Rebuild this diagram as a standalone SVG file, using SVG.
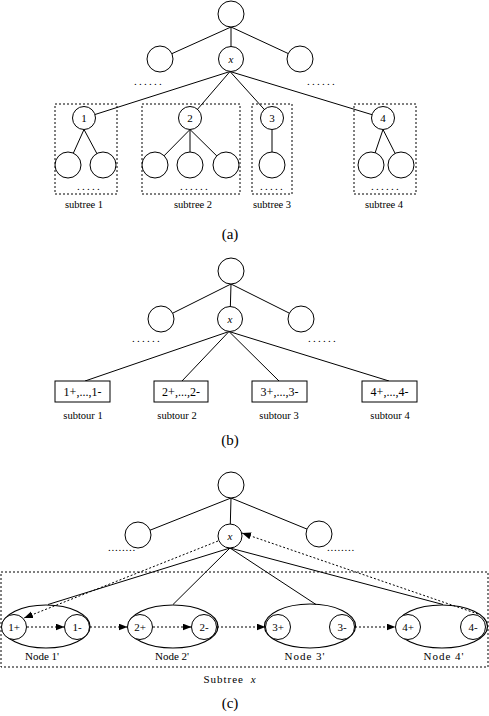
<svg xmlns="http://www.w3.org/2000/svg" width="489" height="716" viewBox="0 0 489 716">
<style>
  .n { fill: #fff; stroke: #000; stroke-width: 1; }
  .e { fill: none; stroke: #000; stroke-width: 1.2; }
  .ln { stroke: #000; stroke-width: 1; fill: none; }
  .dl { stroke: #000; stroke-width: 1; fill: none; stroke-dasharray: 2 2; }
  .box { fill: none; stroke: #000; stroke-width: 1; stroke-dasharray: 2 2; }
  .sbox { fill: #fff; stroke: #000; stroke-width: 1; }
  text { font-family: "Liberation Serif", "Times New Roman", serif; fill: #000; }
  .lb { font-size: 10.5px; text-anchor: middle; }
  .nl { font-size: 11px; text-anchor: middle; }
  .it { font-size: 11px; text-anchor: middle; font-style: italic; }
  .cap { font-size: 15px; text-anchor: middle; }
  .dots { font-size: 11px; letter-spacing: 2.25px; }
  .bt { font-size: 12px; text-anchor: middle; }
</style>
<defs>
  <marker id="ah" markerUnits="userSpaceOnUse" markerWidth="10" markerHeight="8" refX="9" refY="3.5" orient="auto">
    <path d="M0,0 L9,3.5 L0,7 Z" fill="#000"/>
  </marker>
</defs>

<!-- ===== (a) ===== -->
<g id="connectors-a">
  <line class="ln" x1="231" y1="27" x2="160" y2="59"/>
  <line class="ln" x1="231" y1="27" x2="300" y2="59"/>
  <line class="ln" x1="231" y1="27" x2="231" y2="59"/>
  <line class="ln" x1="230" y1="71.5" x2="84" y2="118"/>
  <line class="ln" x1="230" y1="71.5" x2="190" y2="118"/>
  <line class="ln" x1="230" y1="71.5" x2="272" y2="118"/>
  <line class="ln" x1="230" y1="71.5" x2="383" y2="118"/>
  <line class="ln" x1="84" y1="129.5" x2="68" y2="165"/>
  <line class="ln" x1="84" y1="129.5" x2="103" y2="165"/>
  <line class="ln" x1="190" y1="129.5" x2="155" y2="165"/>
  <line class="ln" x1="190" y1="129.5" x2="190" y2="165"/>
  <line class="ln" x1="190" y1="129.5" x2="226" y2="165"/>
  <line class="ln" x1="272" y1="129.5" x2="272" y2="165"/>
  <line class="ln" x1="383" y1="129.5" x2="371" y2="165"/>
  <line class="ln" x1="383" y1="129.5" x2="401" y2="165"/>
</g>
<g id="a-root"><circle class="n" cx="231" cy="14" r="13"/></g>
<g id="a-left"><circle class="n" cx="160" cy="59" r="13"/></g>
<g id="a-x"><circle class="n" cx="231" cy="59" r="12.5"/><text class="it" x="231" y="63">x</text></g>
<g id="a-right"><circle class="n" cx="300" cy="59" r="13"/></g>
<text class="dots" x="134" y="85">......</text>
<text class="dots" x="307" y="85">......</text>

<g id="subtree1">
  <rect class="box" x="55" y="104" width="62" height="90"/>
  <circle class="n" cx="84" cy="118" r="11.5"/><text class="nl" x="84" y="122">1</text>
  <circle class="n" cx="68" cy="165" r="13"/>
  <circle class="n" cx="103" cy="165" r="13"/>
  <text class="dots" x="77" y="190">.....</text>
  <text class="lb" x="84" y="208">subtree 1</text>
</g>
<g id="subtree2">
  <rect class="box" x="142" y="104" width="98" height="90"/>
  <circle class="n" cx="190" cy="118" r="11.5"/><text class="nl" x="190" y="122">2</text>
  <circle class="n" cx="155" cy="165" r="13"/>
  <circle class="n" cx="190" cy="165" r="13"/>
  <circle class="n" cx="226" cy="165" r="13"/>
  <text class="dots" x="180" y="190">......</text>
  <text class="lb" x="193" y="208">subtree 2</text>
</g>
<g id="subtree3">
  <rect class="box" x="252" y="104" width="40" height="90"/>
  <circle class="n" cx="272" cy="118" r="11.5"/><text class="nl" x="272" y="122">3</text>
  <circle class="n" cx="272" cy="165" r="13"/>
  <text class="dots" x="260" y="190">.....</text>
  <text class="lb" x="272" y="208">subtree 3</text>
</g>
<g id="subtree4">
  <rect class="box" x="354" y="104" width="62" height="90"/>
  <circle class="n" cx="383" cy="118" r="11.5"/><text class="nl" x="383" y="122">4</text>
  <circle class="n" cx="371" cy="165" r="13"/>
  <circle class="n" cx="401" cy="165" r="13"/>
  <text class="dots" x="371" y="190">......</text>
  <text class="lb" x="384" y="208">subtree 4</text>
</g>
<text class="cap" x="230" y="239">(a)</text>

<!-- ===== (b) ===== -->
<g id="connectors-b">
  <line class="ln" x1="231" y1="284" x2="161" y2="319"/>
  <line class="ln" x1="231" y1="284" x2="301" y2="319"/>
  <line class="ln" x1="231" y1="284" x2="230" y2="319"/>
  <line class="ln" x1="229" y1="331.5" x2="85" y2="381"/>
  <line class="ln" x1="229" y1="331.5" x2="182" y2="381"/>
  <line class="ln" x1="229" y1="331.5" x2="279" y2="381"/>
  <line class="ln" x1="229" y1="331.5" x2="389" y2="381"/>
</g>
<g id="b-root"><circle class="n" cx="231" cy="271" r="13"/></g>
<g id="b-left"><circle class="n" cx="161" cy="319" r="13"/></g>
<g id="b-x"><circle class="n" cx="230" cy="319" r="12.5"/><text class="it" x="230" y="323">x</text></g>
<g id="b-right"><circle class="n" cx="301" cy="319" r="13"/></g>
<text class="dots" x="132" y="342">......</text>
<text class="dots" x="308" y="342">......</text>

<g id="subtour1"><rect class="sbox" x="55" y="381" width="55" height="21"/><text class="bt" x="82.5" y="396">1+,...,1-</text><text class="lb" x="83" y="419">subtour 1</text></g>
<g id="subtour2"><rect class="sbox" x="154" y="381" width="54" height="21"/><text class="bt" x="181" y="396">2+,...,2-</text><text class="lb" x="177" y="419">subtour 2</text></g>
<g id="subtour3"><rect class="sbox" x="252" y="381" width="55" height="21"/><text class="bt" x="279.5" y="396">3+,...,3-</text><text class="lb" x="279" y="419">subtour 3</text></g>
<g id="subtour4"><rect class="sbox" x="362" y="381" width="55" height="21"/><text class="bt" x="389.5" y="396">4+,...,4-</text><text class="lb" x="390" y="419">subtour 4</text></g>
<text class="cap" x="230" y="445">(b)</text>

<!-- ===== (c) ===== -->
<rect class="box" x="1" y="572" width="487" height="95"/>
<g id="connectors-c">
  <line class="ln" x1="231" y1="498" x2="138" y2="535"/>
  <line class="ln" x1="231" y1="498" x2="319" y2="534"/>
  <line class="ln" x1="231" y1="498" x2="230" y2="536"/>
  <line class="ln" x1="230" y1="548" x2="48" y2="604.5"/>
  <line class="ln" x1="230" y1="548" x2="173" y2="604.5"/>
  <line class="ln" x1="230" y1="548" x2="316" y2="604.5"/>
  <line class="ln" x1="230" y1="548" x2="443" y2="604.5"/>
</g>
<g id="c-root"><circle class="n" cx="231" cy="485" r="13"/></g>
<g id="c-left"><circle class="n" cx="138" cy="535" r="13"/></g>
<g id="c-x"><circle class="n" cx="230" cy="536" r="12"/><text class="it" x="230" y="540">x</text></g>
<g id="c-right"><circle class="n" cx="319" cy="534" r="13"/></g>
<text class="dots" x="108" y="551" style="letter-spacing:0.75px">........</text>
<text class="dots" x="327" y="551" style="letter-spacing:0.75px">........</text>

<g id="node1p">
  <ellipse class="e" cx="46" cy="626.5" rx="44" ry="21.5"/>
  <circle class="n" cx="14" cy="627" r="12.5"/><text class="nl" x="14" y="631">1+</text>
  <circle class="n" cx="77" cy="627" r="12.5"/><text class="nl" x="77" y="631">1-</text>
  <text class="nl" x="42" y="660">Node 1'</text>
</g>
<g id="node2p">
  <ellipse class="e" cx="173" cy="626.5" rx="45" ry="21.5"/>
  <circle class="n" cx="140" cy="627" r="12.5"/><text class="nl" x="140" y="631">2+</text>
  <circle class="n" cx="204" cy="627" r="12.5"/><text class="nl" x="204" y="631">2-</text>
  <text class="nl" x="172" y="660">Node 2'</text>
</g>
<g id="node3p">
  <ellipse class="e" cx="310" cy="626" rx="45.5" ry="22"/>
  <circle class="n" cx="278" cy="627" r="12.5"/><text class="nl" x="278" y="631">3+</text>
  <circle class="n" cx="342" cy="627" r="12.5"/><text class="nl" x="342" y="631">3-</text>
  <text class="nl" x="305" y="660" style="letter-spacing:1px">Node 3'</text>
</g>
<g id="node4p">
  <ellipse class="e" cx="442" cy="626.5" rx="45.5" ry="21.5"/>
  <circle class="n" cx="408" cy="627" r="12.5"/><text class="nl" x="408" y="631">4+</text>
  <circle class="n" cx="473" cy="627" r="12.5"/><text class="nl" x="473" y="631">4-</text>
  <text class="nl" x="444" y="660" style="letter-spacing:1px">Node 4'</text>
</g>

<g id="tour-arrows">
  <line class="dl" x1="27" y1="627" x2="64.5" y2="627" marker-end="url(#ah)"/>
  <line class="dl" x1="90" y1="627" x2="127.5" y2="627" marker-end="url(#ah)"/>
  <line class="dl" x1="153" y1="627" x2="191.5" y2="627" marker-end="url(#ah)"/>
  <line class="dl" x1="217" y1="627" x2="265.5" y2="627" marker-end="url(#ah)"/>
  <line class="dl" x1="355" y1="627" x2="395.5" y2="627" marker-end="url(#ah)"/>
  <line class="dl" x1="218" y1="541" x2="24" y2="618" marker-end="url(#ah)"/>
  <line class="dl" x1="478" y1="614" x2="242" y2="533" marker-end="url(#ah)"/>
</g>

<text class="nl" x="230" y="683" style="letter-spacing:1px">Subtree <tspan font-style="italic" dx="3">x</tspan></text>
<text class="cap" x="230" y="708">(c)</text>
</svg>
